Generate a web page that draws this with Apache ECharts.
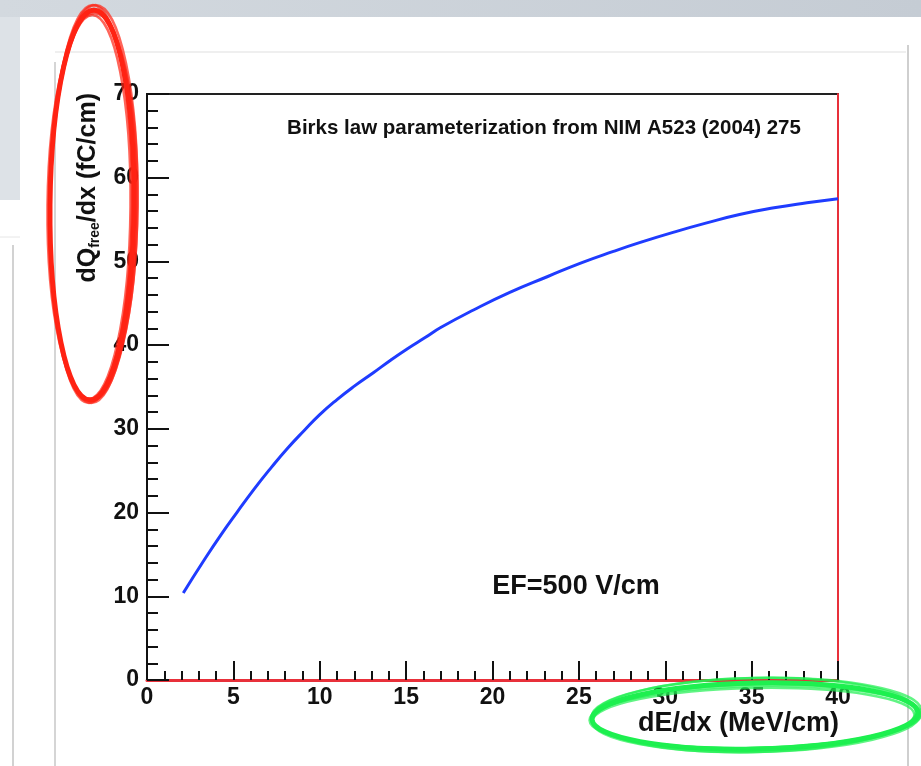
<!DOCTYPE html>
<html>
<head>
<meta charset="utf-8">
<title>Birks law dQ/dx</title>
<script src="https://cdn.jsdelivr.net/npm/echarts@6/dist/echarts.min.js"></script>
<style>
  html, body { margin: 0; padding: 0; background: #fff; }
  #chart { width: 921px; height: 766px; }
</style>
</head>
<body>
<div id="chart"></div>
<script>
// values
const dEdx = [2.1, 3.3, 4.3, 5.2, 6.2, 7.2, 8.1, 9.1, 10.0, 11.0, 12.0, 13.1, 14.1, 15.1, 16.1, 17.0, 18.9, 21.0, 23.2, 25.1, 27.0, 28.6, 30.5, 32.4, 34.3, 36.3, 38.2, 40];
const dQdx = [10.4, 14.3, 17.4, 20.0, 22.8, 25.4, 27.6, 29.8, 31.7, 33.5, 35.1, 36.7, 38.2, 39.6, 40.9, 42.1, 44.2, 46.3, 48.2, 49.8, 51.2, 52.3, 53.5, 54.6, 55.6, 56.4, 57.0, 57.5];
const xTicks = [0, 5, 10, 15, 20, 25, 30, 35, 40];
const yTicks = [0, 10, 20, 30, 40, 50, 60, 70];

const FONT = '"Liberation Sans", Arial, Helvetica, sans-serif';

const chart = echarts.init(document.getElementById('chart'));

// hand drawn ellipse: a few slightly different strokes
function sketchEllipse(cx, cy, rx, ry, rot, color) {
  const shifts = [[0, 0, 0, 0], [1.5, -2, 2, 3], [-1.5, 2, -2, -3], [0.5, 1, 3, -2], [-1, -1, -1, 4], [1, 2, 1, 1]];
  return shifts.map((s, i) => ({
    type: 'ellipse',
    x: cx + s[0], y: cy + s[1],
    rotation: rot,
    shape: { cx: 0, cy: 0, rx: rx + s[2], ry: ry + s[3] },
    style: { fill: null, stroke: color, lineWidth: i === 0 ? 5 : 2.5, opacity: i === 0 ? 1 : 0.7 },
    z: 100
  }));
}

let option = {
  backgroundColor: '#fff',
  animation: false,
  grid: {
    left: 147, right: 83, top: 94, bottom: 86,
    show: true, borderColor: '#222', borderWidth: 2, backgroundColor: 'transparent'
  },
  xAxis: {
    type: 'value', min: 0, max: 40, interval: 5,
    axisLine: { show: true, onZero: false, lineStyle: { color: '#e8303a', width: 3 } },
    axisTick: { show: true, inside: true, length: 19, lineStyle: { color: '#111', width: 2 } },
    minorTick: { show: true, splitNumber: 5, length: 9, lineStyle: { color: '#111', width: 2 } },
    splitLine: { show: false },
    axisLabel: {
      margin: 6, color: '#111', fontFamily: FONT, fontWeight: 'bold', fontSize: 23,
      customValues: xTicks, formatter: v => String(v)
    }
  },
  yAxis: [{
    type: 'value', position: 'left', min: 0, max: 70, interval: 10,
    axisLine: { show: true, onZero: false, lineStyle: { color: '#111', width: 2 } },
    axisTick: { show: true, inside: true, length: 22, lineStyle: { color: '#111', width: 2 } },
    minorTick: { show: true, splitNumber: 5, length: 11, lineStyle: { color: '#111', width: 2 } },
    splitLine: { show: false },
    axisLabel: {
      margin: 8, color: '#111', fontFamily: FONT, fontWeight: 'bold', fontSize: 23,
      customValues: yTicks, formatter: v => String(v)
    }
  }, {
    type: 'value', position: 'right', min: 0, max: 70, interval: 10,
    axisLine: { show: true, onZero: false, lineStyle: { color: '#e8303a', width: 2 } },
    axisTick: { show: false }, axisLabel: { show: false }, splitLine: { show: false }
  }],
  series: [{
    type: 'line',
    data: dEdx.map((x, i) => [x, dQdx[i]]),
    smooth: 0.5,
    showSymbol: false,
    lineStyle: { color: '#1f3cff', width: 3 },
    z: 5
  }],
  graphic: [
    // screenshot surroundings
    { type: 'rect', shape: { x: 0, y: 0, width: 921, height: 17 }, z: -10,
      style: { fill: new echarts.graphic.LinearGradient(0, 0, 1, 0, [
        { offset: 0, color: '#d3d9df' }, { offset: 1, color: '#c5ccd4' }]) } },
    { type: 'rect', shape: { x: 0, y: 17, width: 20, height: 183 }, z: -10,
      style: { fill: '#dde2e7' } },
    { type: 'line', shape: { x1: 0, y1: 237, x2: 20, y2: 237 }, z: -10,
      style: { stroke: '#e6e6e6', lineWidth: 1 } },
    { type: 'line', shape: { x1: 13, y1: 245, x2: 13, y2: 766 }, z: -10,
      style: { stroke: '#d2d2d2', lineWidth: 2 } },
    { type: 'line', shape: { x1: 55, y1: 52, x2: 906, y2: 52 }, z: -10,
      style: { stroke: '#efefef', lineWidth: 2 } },
    { type: 'line', shape: { x1: 55, y1: 62, x2: 55, y2: 766 }, z: -10,
      style: { stroke: '#d5d5d5', lineWidth: 2 } },
    { type: 'line', shape: { x1: 908, y1: 45, x2: 908, y2: 766 }, z: -10,
      style: { stroke: '#cfcfcf', lineWidth: 2 } },

    // texts
    { type: 'text', x: 544, y: 128, z: 10,
      style: { text: 'Birks law parameterization from NIM A523 (2004) 275', fill: '#111',
        font: 'bold 20.5px ' + FONT, textAlign: 'center', textVerticalAlign: 'middle' } },
    { type: 'text', x: 576, y: 587, z: 10,
      style: { text: 'EF=500 V/cm', fill: '#111',
        font: 'bold 27px ' + FONT, textAlign: 'center', textVerticalAlign: 'middle' } },
    { type: 'text', x: 839, y: 724, z: 10,
      style: { text: 'dE/dx (MeV/cm)', fill: '#111',
        font: 'bold 27px ' + FONT, textAlign: 'right', textVerticalAlign: 'middle' } },
    { type: 'text', x: 88, y: 93, rotation: Math.PI / 2, z: 10,
      style: {
        text: 'dQ{sub|free}/dx (fC/cm)', fill: '#111',
        font: 'bold 25px ' + FONT, textAlign: 'right', textVerticalAlign: 'middle',
        rich: { sub: { font: 'bold 14px ' + FONT, fill: '#111', padding: [14, 0, 0, 0] } }
      } }
  ]
  .concat(sketchEllipse(92, 205, 42, 195, -0.01, '#ff2414'))
  .concat(sketchEllipse(755, 716, 163, 33, 0.02, '#1ef050'))
};

chart.setOption(option);
window.addEventListener('resize', () => chart.resize());
</script>
</body>
</html>
